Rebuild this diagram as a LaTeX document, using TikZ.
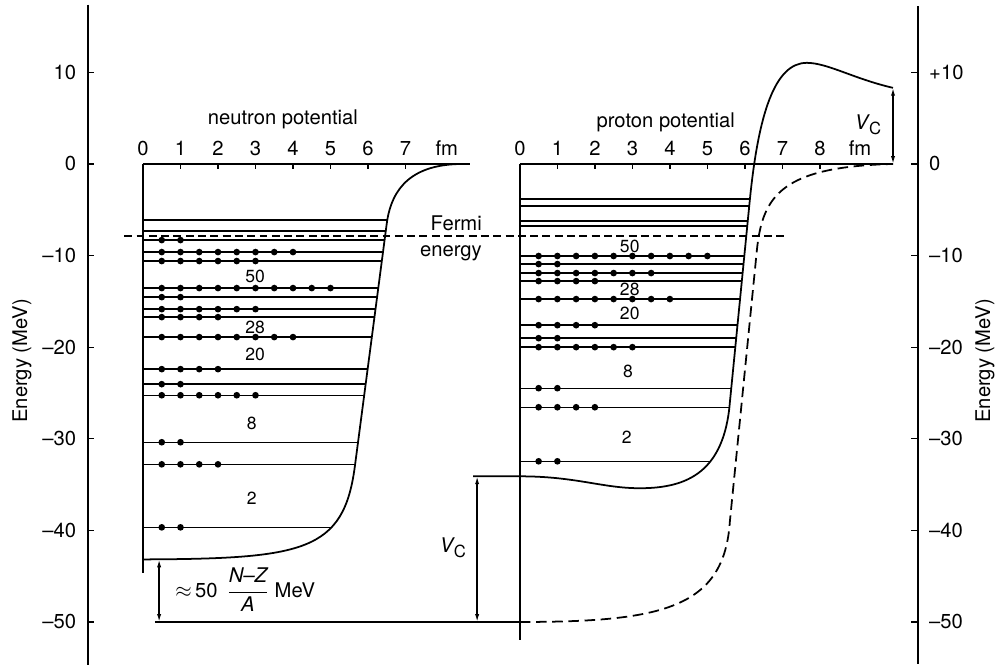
\documentclass[tikz,border=0pt]{standalone}
\usepackage{fontspec}
\setmainfont{TeX Gyre Heros}
\usepackage{tikz}
\usetikzlibrary{positioning, arrows.meta}

\newcommand{\vcoul}{\textit{V}\kern-0.05em\raisebox{-0.45ex}{\fontsize{9.5}{10}\selectfont C}}
\newcommand{\ncurve}{(0,-43.17) .. controls (4.3,-43.1) and (5.35,-42.3) .. (5.65,-33) -- (6.5,-6.5) .. controls (6.63,-2.5) and (7.2,0) .. (8.53,0)}
\newcommand{\pcurve}{(-1.25,-34.1) -- (0,-34.1) .. controls (1.5,-34.1) and (2.2,-35.4) .. (3.2,-35.4) .. controls (4.5,-35.4) and (5.45,-33.5) .. (5.6,-26) -- (6.13,-4) .. controls (6.36,5.5) and (6.8,11.04) .. (7.65,11.04) .. controls (8.2,11.04) and (8.9,9.3) .. (9.95,8.31)}
\newcommand{\pbare}{(0,-50) .. controls (3.8,-50) and (5.45,-48.5) .. (5.6,-39) -- (6.32,-9.4) .. controls (6.47,-3.4) and (7.0,-0.3) .. (9.95,0)}

\begin{document}
\begin{tikzpicture}[
  x=0.75cm, y=0.1832cm,
  font=\fontsize{11.5}{15}\selectfont,
  axis/.style={line width=0.85pt},
  tick/.style={line width=0.7pt},
  level/.style={line width=0.8pt},
  well/.style={line width=1pt},
  fermi/.style={line width=0.8pt, dash pattern=on 4.5pt off 2.5pt},
  bare/.style={line width=1pt, dash pattern=on 6pt off 3.2pt},
  dim/.style={{Latex[length=4.5pt,width=2.4pt]}-{Latex[length=4.5pt,width=2.4pt]}, line width=0.8pt},
  magic/.style={font=\fontsize{10}{12}\selectfont},
]
\useasboundingbox (-3.813,-54.97) rectangle (22.853,17.9);

\draw[axis] (-1.467,17.4) -- (-1.467,-54.7);
\draw[axis] (20.667,17.2) -- (20.667,-54.6);
\foreach \v/\t [count=\i] in {10/10,0/0,-10/–10,-20/–20,-30/–30,-40/–40,-50/–50} {
  \draw[tick] (-1.467,\v) -- ++(0.16,0);
  \node[anchor=east] (el\i) at (-1.62,\v) {\t};
}
\foreach \v/\t [count=\i] in {10/+10,0/0,-10/–10,-20/–20,-30/–30,-40/–40,-50/–50} {
  \draw[tick] (20.667,\v) -- ++(-0.18,0);
  \node[anchor=west] (er\i) at (20.8,\v) {\t};
}
\node[rotate=90] (elabl) at (-3.23,-21.5) {Energy (MeV)};
\node[rotate=90] (elabr) at (22.45,-21.5) {Energy (MeV)};

% neutrons
\node[anchor=base] (ntitle) at (3.73,4.26) {neutron potential};
\foreach \r in {0,...,7} \node[anchor=base] (nr\r) at (\r,0.87) {\r};
\node[anchor=base] (nfm) at (8.1,0.87) {fm};
\draw[axis] (0,0) -- (8.72,0);
\draw[axis] (0,0) -- (0,-44.6);
\foreach \r in {1,...,7} \draw[tick] (\r,0) -- (\r,-0.6);
\draw[well] \ncurve;
\begin{scope}
  \clip \ncurve -- (0,0) -- cycle;
  \foreach \E/\n in {-6.12/0,-7.32/0,-8.31/2,-9.62/8,-10.6/6,-13.55/10,-14.54/2,-15.85/6,-16.72/4,-18.9/8,-22.4/4,-24.04/2,-25.25/6,-30.38/2,-32.79/4,-39.67/2} {
    \draw[level] (0,\E) -- (9,\E);
    \ifnum\n>0 \foreach \k in {1,...,\n} \fill (\k/2,\E) circle (1.9pt); \fi
  }
\end{scope}
\node[magic] (n50) at (2.99,-12.24) {50};
\node[magic] (n28) at (2.99,-17.8) {28};
\node[magic] (n20) at (2.99,-20.77) {20};
\node[magic] (n8) at (2.9,-28.3) {8};
\node[magic] (n2) at (2.9,-36.5) {2};

\coordinate (nbot) at (0.43,-43.17);
\coordinate (nfifty) at (0.43,-50);
\draw[dim] (nbot) -- (nfifty);
\node[anchor=west] (asym) at (0.7,-46.5) {$\approx$\,50\, $\displaystyle\frac{\mbox{\itshape N–Z}}{\mbox{\itshape A}}$ MeV};
\draw[level] (0.32,-50) -- (10.05,-50);

\coordinate (ctop) at (8.91,-34.1);
\coordinate (cbot) at (8.91,-50);
\draw[dim] (ctop) -- (cbot);
\node[anchor=east] (vcmid) at (8.78,-41.9) {\vcoul};

\draw[fermi] (-0.5,-7.87) -- (17.12,-7.87);
\node[anchor=east, align=right] (fermi) at (9.2,-8.1) {Fermi\\energy};

% protons
\begin{scope}[shift={(10.05,0)}]
  \node[anchor=base] (ptitle) at (3.89,4.0) {proton potential};
  \foreach \r in {0,...,8} \node[anchor=base] (pr\r) at (\r,0.87) {\r};
  \node[anchor=base] (pfm) at (9.07,0.87) {fm};
  \draw[axis] (0,0) -- (9.95,0);
  \draw[axis] (0,0) -- (0,-51.97);
  \foreach \r in {1,...,8} \draw[tick] (\r,0) -- (\r,-0.6);
  \draw[well] \pcurve;
  \draw[bare] \pbare;
  \begin{scope}
    \clip \pcurve -- (-1.25,20) -- cycle;
    \foreach \E/\n in {-3.83/0,-4.59/0,-6.23/0,-6.78/0,-10.05/10,-10.93/2,-11.91/7,-12.79/4,-14.75/8,-17.6/4,-19.02/2,-20.0/6,-24.48/2,-26.56/4,-32.46/2} {
      \draw[level] (0,\E) -- (9,\E);
      \ifnum\n>0 \foreach \k in {1,...,\n} \fill (\k/2,\E) circle (1.9pt); \fi
    }
  \end{scope}
  \node[magic] (p50) at (2.93,-8.96) {50};
  \node[magic] (p28) at (2.93,-13.66) {28};
  \node[magic] (p20) at (2.93,-16.28) {20};
  \node[magic] (p8) at (2.88,-22.6) {8};
  \node[magic] (p2) at (2.85,-29.8) {2};

  \coordinate (vtop) at (9.95,8.31);
  \coordinate (vbot) at (9.95,0);
  \draw[dim] (vtop) -- (vbot);
  \node[anchor=east] (vcright) at (9.8,4.26) {\vcoul};
\end{scope}
\end{tikzpicture}
\end{document}
